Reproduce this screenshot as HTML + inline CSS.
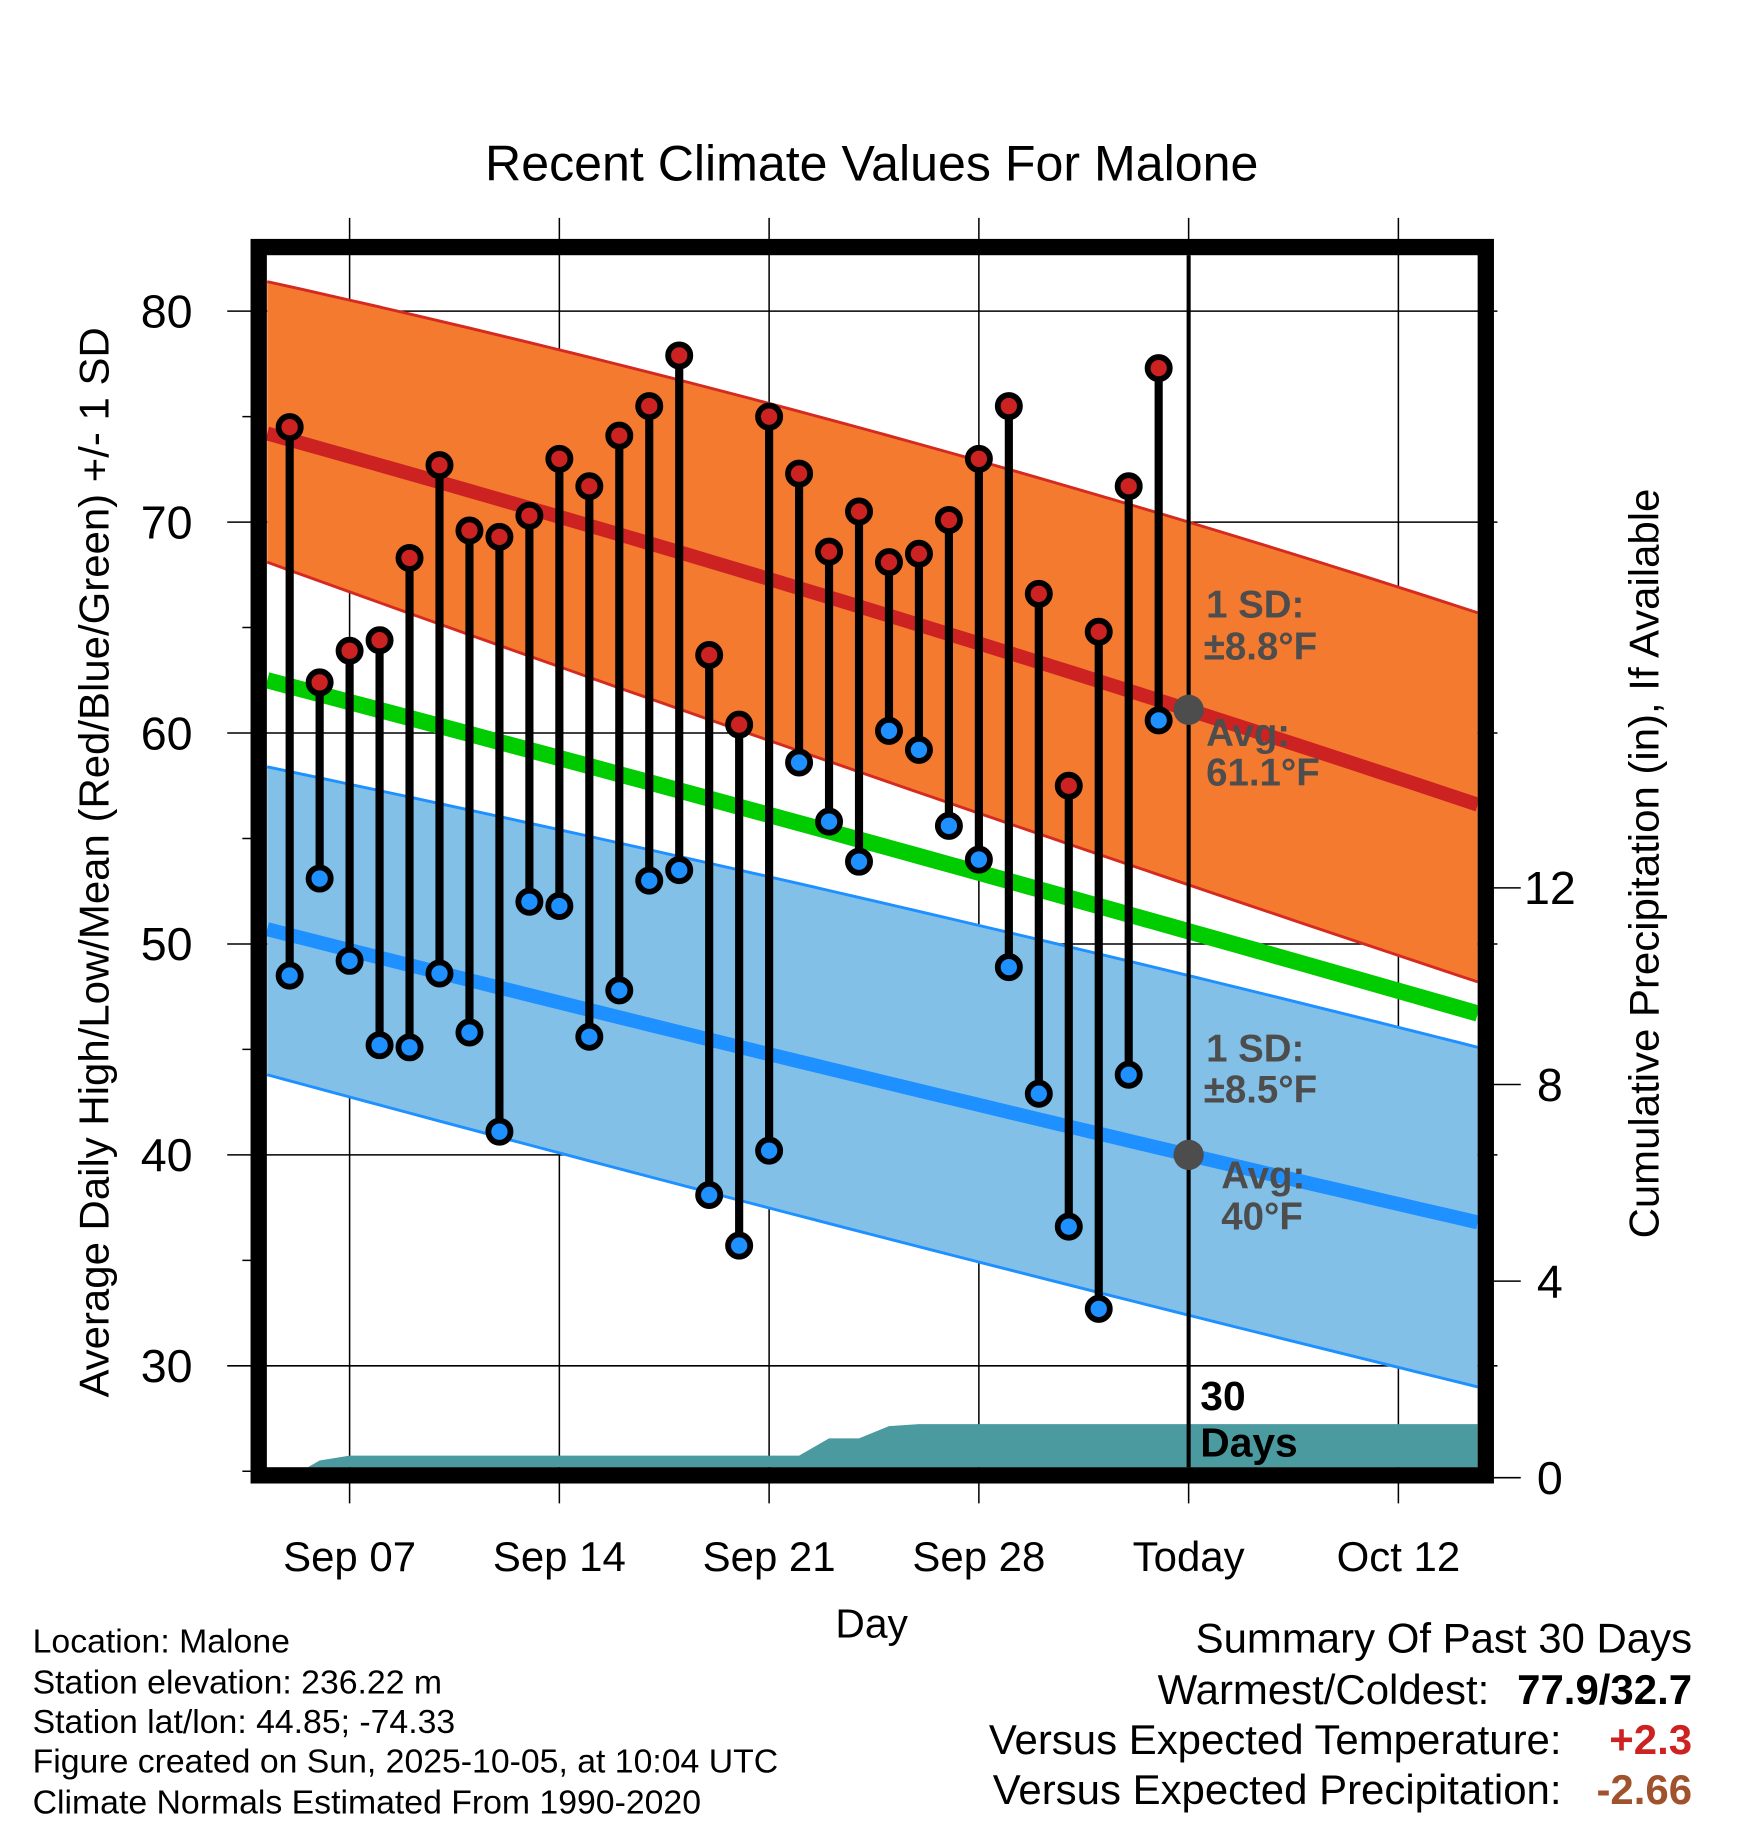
<!DOCTYPE html>
<html><head><meta charset="utf-8"><style>
html,body{margin:0;padding:0;background:#fff;}
svg{display:block;font-family:"Liberation Sans",Arial,sans-serif;}
</style></head><body>
<svg id="chart" width="1748" height="1828" viewBox="0 0 1500 1568.6" preserveAspectRatio="none" xmlns="http://www.w3.org/2000/svg">
<defs><clipPath id="plotClip"><rect x="229" y="219" width="1039" height="1040"/></clipPath></defs>
<rect width="1500" height="1568.6" fill="#fff"/>
<text x="748" y="155" font-size="43" text-anchor="middle">Recent Climate Values For Malone</text>
<g id="grid"></g>
<g id="bands" clip-path="url(#plotClip)"></g>
<g id="marks"></g>
<g id="axes"></g>
<text x="748" y="1405" font-size="35" text-anchor="middle">Day</text>
<text transform="translate(93,740) rotate(-90)" font-size="36" text-anchor="middle">Average Daily High/Low/Mean (Red/Blue/Green) +/- 1 SD</text>
<text transform="translate(1423,741) rotate(-90)" font-size="36" text-anchor="middle">Cumulative Precipitation (in), If Available</text>
<g font-size="29">
<text x="28" y="1418">Location: Malone</text>
<text x="28" y="1453">Station elevation: 236.22 m</text>
<text x="28" y="1487">Station lat/lon: 44.85; -74.33</text>
<text x="28" y="1521">Figure created on Sun, 2025-10-05, at 10:04 UTC</text>
<text x="28" y="1556">Climate Normals Estimated From 1990-2020</text>
</g>
<g font-size="36">
<text x="1452" y="1418" text-anchor="end">Summary Of Past 30 Days</text>
<text x="1278" y="1462" text-anchor="end">Warmest/Coldest:</text>
<text x="1452" y="1462" text-anchor="end" font-weight="bold">77.9/32.7</text>
<text x="1340" y="1505" text-anchor="end">Versus Expected Temperature:</text>
<text x="1452" y="1505" text-anchor="end" font-weight="bold" fill="#cc2222">+2.3</text>
<text x="1340" y="1548" text-anchor="end">Versus Expected Precipitation:</text>
<text x="1452" y="1548" text-anchor="end" font-weight="bold" fill="#a0522d">-2.66</text>
</g>
</svg>
<script>
// day index: 0 = Sep 07
const highs = [74.5,62.4,63.9,64.4,68.3,72.7,69.6,69.3,70.3,73.0,71.7,74.1,75.5,77.9,63.7,60.4,75.0,72.3,68.6,70.5,68.1,68.5,70.1,73.0,75.5,66.6,57.5,64.8,71.7,77.3];
const lows = [48.5,53.1,49.2,45.2,45.1,48.6,45.8,41.1,52.0,51.8,45.6,47.8,53.0,53.5,38.1,35.7,40.2,58.6,55.8,53.9,60.1,59.2,55.6,54.0,48.9,42.9,36.6,32.7,43.8,60.6];
const firstDay = -2;
const normDays = [-2.75,28,37.65];
const normHigh = [74.2,61.1,56.6];
const normHighUp = [81.4,70.0,65.7];
const normHighLo = [68.1,52.8,48.2];
const normMean = [62.5,50.6,46.7];
const normLow = [50.7,40.0,36.8];
const normLowUp = [58.4,48.5,45.1];
const normLowLo = [43.8,32.4,29.0];
const precipDays = [-2.75,-2,-1,0,14,15,16,17,18,19,37.65];
const precipVals = [0,0,0.35,0.45,0.45,0.45,0.8,0.8,1.05,1.09,1.09];
const xTickDays = [0,7,14,21,28,35];
const xTickLabels = ["Sep 07","Sep 14","Sep 21","Sep 28","Today","Oct 12"];
const yTicks = [30,40,50,60,70,80];
const pTicks = [0,4,8,12];

const NS="http://www.w3.org/2000/svg";
const X = d => 300 + d*25.714;
const Y = v => 267 + (80-v)*18.1;
const P = p => 1268 - p*42.175;
function mk(tag, attrs, parent){const e=document.createElementNS(NS,tag);for(const k in attrs)e.setAttribute(k,attrs[k]);parent.appendChild(e);return e;}
const grid=document.getElementById('grid'), bands=document.getElementById('bands'), marks=document.getElementById('marks'), axes=document.getElementById('axes');

yTicks.forEach(v=>{const l=mk('line',{x1:195,x2:1285,y1:Y(v),y2:Y(v),stroke:'#000','stroke-width':1.3},grid);


const t=mk('text',{x:143,y:Y(v)+14,'font-size':40,'text-anchor':'middle'},axes);t.textContent=v;

});
for(let v=25;v<=75;v+=10){const l=mk('line',{x1:208,x2:222,y1:Y(v),y2:Y(v),stroke:'#000','stroke-width':1.3},axes);

}
xTickDays.forEach((d,i)=>{const l=mk('line',{x1:X(d),x2:X(d),y1:187,y2:1290,stroke:'#000','stroke-width':1.3},grid);


const t=mk('text',{x:X(d),y:1348,'font-size':36,'text-anchor':'middle'},axes);t.textContent=xTickLabels[i];

});
pTicks.forEach(p=>{const l=mk('line',{x1:1282,x2:1305,y1:P(p),y2:P(p),stroke:'#000','stroke-width':1.3},axes);


const t=mk('text',{x:1330,y:P(p)+14,'font-size':40,'text-anchor':'middle'},axes);t.textContent=p;

});

// smooth curve through the three normal anchors (quadratic)
function curveAt(arr,d){
 const [d0,d1,d2]=normDays,[v0,v1,v2]=arr;
 const s1=(v1-v0)/(d1-d0), s2=(v2-v1)/(d2-d1), a=(s2-s1)/(d2-d0);
 return v0+s1*(d-d0)+a*(d-d0)*(d-d1);
}
function pts(arr){const o=[];const n=60;for(let i=0;i<=n;i++){const d=normDays[0]+(normDays[2]-normDays[0])*i/n;o.push(X(d).toFixed(2)+','+Y(curveAt(arr,d)).toFixed(2));}return o;}
function band(up,lo,fill,edge,name){
 const p=mk('polygon',{points:pts(up).concat(pts(lo).reverse()).join(' '),fill:fill},bands);
 
 
 [up,lo].forEach(a=>{const e=mk('polyline',{points:pts(a).join(' '),fill:'none',stroke:edge,'stroke-width':2.5},bands);
 
 });
}
band(normHighUp,normHighLo,'#f47a30','#d42a20','high-sd-band');
band(normLowUp,normLowLo,'#82c0e8','#1e90ff','low-sd-band');
[[normMean,'#00cc00',14,'mean-line'],[normHigh,'#cc2222',12,'avg-high-line'],[normLow,'#1e90ff',12,'avg-low-line']].forEach(s=>{
 const l=mk('polyline',{points:pts(s[0]).join(' '),fill:'none',stroke:s[1],'stroke-width':s[2],'stroke-linejoin':'round'},bands);
 
 });
const pp=precipDays.map((d,i)=>X(d)+','+P(precipVals[i]));
const area=mk('polygon',{points:[X(precipDays[0])+','+P(0)].concat(pp,[X(precipDays[precipDays.length-1])+','+P(0)]).join(' '),fill:'#4a9aa0'},bands);



const tl=mk('line',{x1:X(28),x2:X(28),y1:219,y2:1259,stroke:'#000','stroke-width':3.5},marks);


highs.forEach((h,i)=>{const x=X(firstDay+i);
 const s=mk('line',{x1:x,x2:x,y1:Y(h),y2:Y(lows[i]),stroke:'#000','stroke-width':7},marks);
 
 });
highs.forEach((h,i)=>{const x=X(firstDay+i);
 const a=mk('circle',{cx:x,cy:Y(h),r:9.5,fill:'#cc2222',stroke:'#000','stroke-width':5},marks);
 
 
 const b=mk('circle',{cx:x,cy:Y(lows[i]),r:9.5,fill:'#1e90ff',stroke:'#000','stroke-width':5},marks);
 
 });
[[normHigh[1],'avg-high-marker'],[normLow[1],'avg-low-marker']].forEach(m=>{
 const c=mk('circle',{cx:X(28),cy:Y(m[0]),r:13,fill:'#4d4d4d'},marks);
 
 });
const ann=[["1 SD:",1035,530],["±8.8°F",1033,566],["Avg:",1035,640],["61.1°F",1035,674],["1 SD:",1035,911],["±8.5°F",1033,946],["Avg:",1048,1020],["40°F",1048,1055]];
ann.forEach(a=>{const t=mk('text',{x:a[1],y:a[2],'font-size':33,'font-weight':'bold',fill:'#4d4d4d'},marks);t.textContent=a[0];
 
 });
[["30",1210],["Days",1250]].forEach(a=>{const t=mk('text',{x:1030,y:a[1],'font-size':35,'font-weight':'bold'},marks);t.textContent=a[0];
 
 });
const fr=mk('rect',{x:222,y:212,width:1053,height:1054,fill:'none',stroke:'#000','stroke-width':14},axes);


</script>
</body></html>
